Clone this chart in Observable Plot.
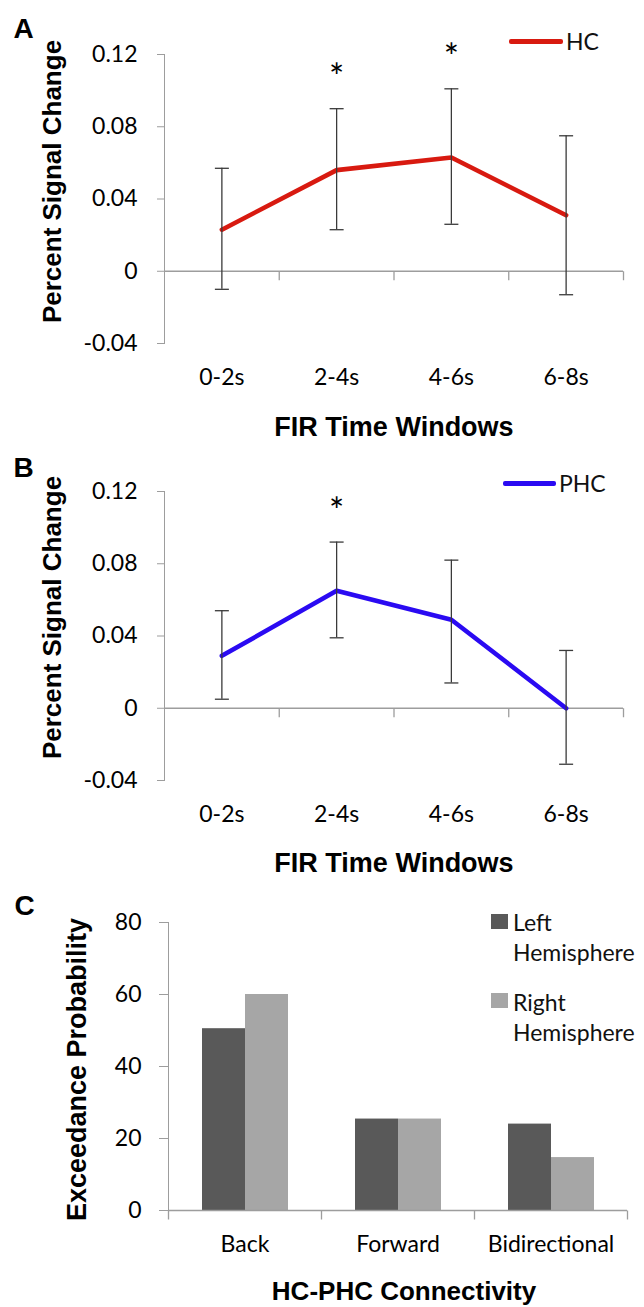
<!DOCTYPE html>
<html>
<head>
<meta charset="utf-8">
<script src="https://cdn.jsdelivr.net/npm/d3@7"></script>
<script src="https://cdn.jsdelivr.net/npm/@observablehq/plot@0.6"></script>
<style>
  html, body { margin: 0; padding: 0; background: #fff; overflow: hidden; }
  #fig { position: relative; width: 644px; overflow: hidden; }
  .panel { position: relative; width: 644px; }
  .panel svg { display: block; }
  .panel svg text { fill: #000 !important; }
  .leg { position: absolute; font-family: Lato, "Open Sans", sans-serif; font-size: 23px; line-height: 30px; color: #111; white-space: nowrap; }
  .legline { position: absolute; height: 5px; border-radius: 2px; }
  .legbox { position: absolute; width: 17px; height: 15px; }
</style>
</head>
<body>
<div id="fig"></div>
<script>
// ---------- data ----------
const windows = ["0-2s", "2-4s", "4-6s", "6-8s"];
const yTicksAB = [-0.04, 0, 0.04, 0.08, 0.12];

const hcMean = [0.023, 0.056, 0.063, 0.031];
const hcLow  = [-0.010, 0.023, 0.026, -0.013];
const hcHigh = [0.057, 0.090, 0.101, 0.075];
const hcSignificant = ["2-4s", "4-6s"];

const phcMean = [0.029, 0.065, 0.049, 0.000];
const phcLow  = [0.005, 0.039, 0.014, -0.031];
const phcHigh = [0.054, 0.092, 0.082, 0.032];
const phcSignificant = ["2-4s"];

const connectivity = ["Back", "Forward", "Bidirectional"];
const hemispheres = ["Left Hemisphere", "Right Hemisphere"];
const leftHemisphere  = [50.5, 25.4, 24.0];
const rightHemisphere = [60.0, 25.4, 14.7];
const yTicksC = [0, 20, 40, 60, 80];

// ---------- styling ----------
const axisGray = "#9d9d9d";
const errColor = "#3a3a3a";
const hcColor = "#d81a10";
const phcColor = "#2a0af2";
const barColors = ["#595959", "#a6a6a6"];
const labelFont = "Liberation Sans, Arial, sans-serif";
const tickFont = "Lato, 'Open Sans', sans-serif";

// custom stroke-only symbols for axis ticks and error-bar caps
const vTick = {draw(ctx) { ctx.moveTo(0, 0); ctx.lineTo(0, 9); }};
const hCap  = {draw(ctx) { ctx.moveTo(-7, 0); ctx.lineTo(7, 0); }};

const fig = document.getElementById("fig");

function linePanel({means, lows, highs, significant, color, letter, legendLabel, mt, mb, letterDy, ylabDy, xlabDy, legend}) {
  const rows = windows.map((w, i) => ({w, mean: means[i], lo: lows[i], hi: highs[i]}));
  const xi = d => windows.indexOf(d.w) + 0.5;
  const stars = rows.filter(d => significant.includes(d.w));
  const bounds = windows.map((w, i) => i + 1);
  const svg = Plot.plot({
    width: 644, height: 436,
    marginLeft: 164, marginRight: 21, marginTop: mt, marginBottom: mb,
    style: {color: axisGray, fontFamily: tickFont, fontSize: "23px", background: "white", overflow: "visible"},
    x: {domain: [0, windows.length], ticks: windows.map((w, i) => i + 0.5),
        tickFormat: d => windows[Math.floor(d)], tickSize: 0, tickPadding: 25, label: null},
    y: {domain: [yTicksAB[0], yTicksAB[yTicksAB.length - 1]], ticks: yTicksAB,
        tickFormat: d => String(d), tickSize: 7, tickPadding: 20, line: true, label: null},
    marks: [
      Plot.ruleY([0], {stroke: axisGray, strokeWidth: 1.3}),
      Plot.dot(bounds, {x: d => d, y: 0, symbol: vTick, stroke: axisGray, fill: "none", strokeWidth: 1.3}),
      Plot.line(rows, {x: xi, y: "mean", stroke: color, strokeWidth: 4.6, strokeLinejoin: "round", strokeLinecap: "round"}),
      Plot.ruleX(rows, {x: xi, y1: "lo", y2: "hi", stroke: errColor, strokeWidth: 1.3}),
      Plot.dot(rows, {x: xi, y: "hi", symbol: hCap, stroke: errColor, fill: "none", strokeWidth: 1.3}),
      Plot.dot(rows, {x: xi, y: "lo", symbol: hCap, stroke: errColor, fill: "none", strokeWidth: 1.3}),
      Plot.text(stars, {x: xi, y: "hi", text: () => "*", dy: -30, fontSize: 36, fontFamily: tickFont, fill: "#000"}),
      Plot.text([letter], {frameAnchor: "top-left", textAnchor: "start", lineAnchor: "middle", dx: -151, dy: letterDy,
        fontSize: 28, fontWeight: "bold", fontFamily: labelFont, fill: "#000"}),
      Plot.text(["Percent Signal Change"], {frameAnchor: "left", textAnchor: "middle", lineAnchor: "middle", rotate: -90, dx: -112, dy: ylabDy,
        fontSize: 26, fontWeight: "bold", fontFamily: labelFont, fill: "#000"}),
      Plot.text(["FIR Time Windows"], {frameAnchor: "bottom", textAnchor: "middle", lineAnchor: "middle", dy: xlabDy,
        fontSize: 27, fontWeight: "bold", fontFamily: labelFont, fill: "#000"})
    ]
  });
  const div = document.createElement("div");
  div.className = "panel";
  div.appendChild(svg);
  const ln = document.createElement("div");
  ln.className = "legline";
  Object.assign(ln.style, {left: legend.lineLeft + "px", top: (legend.y - 2.5) + "px", width: legend.lineW + "px", background: color});
  div.appendChild(ln);
  const tx = document.createElement("div");
  tx.className = "leg";
  Object.assign(tx.style, {left: legend.textLeft + "px", top: (legend.y - 15) + "px"});
  tx.textContent = legendLabel;
  div.appendChild(tx);
  fig.appendChild(div);
}

linePanel({means: hcMean, lows: hcLow, highs: hcHigh, significant: hcSignificant, color: hcColor,
  letter: "A", legendLabel: "HC", mt: 54, mb: 93, letterDy: -25, ylabDy: -17.5, xlabDy: 84,
  legend: {lineLeft: 509, lineW: 54, textLeft: 566, y: 41}});

linePanel({means: phcMean, lows: phcLow, highs: phcHigh, significant: phcSignificant, color: phcColor,
  letter: "B", legendLabel: "PHC", mt: 55, mb: 92, letterDy: -23.5, ylabDy: -18.5, xlabDy: 83,
  legend: {lineLeft: 503, lineW: 53, textLeft: 559, y: 47}});

// ---------- panel C ----------
(function () {
  const rows = [];
  connectivity.forEach((c, i) => {
    rows.push({conn: c, hemi: hemispheres[0], value: leftHemisphere[i]});
    rows.push({conn: c, hemi: hemispheres[1], value: rightHemisphere[i]});
  });
  const last = connectivity[connectivity.length - 1];
  const svg = Plot.plot({
    width: 644, height: 435,
    marginLeft: 167, marginRight: 16, marginTop: 50, marginBottom: 97,
    style: {color: axisGray, fontFamily: tickFont, fontSize: "23px", background: "white", overflow: "visible"},
    fx: {domain: connectivity, padding: 0, label: null, tickSize: 0, tickPadding: 25, axis: "bottom"},
    x: {domain: hemispheres, paddingInner: 0, paddingOuter: 0.767, axis: null},
    y: {domain: [0, 80], ticks: yTicksC, tickSize: 9, tickPadding: 18, line: true, label: null},
    color: {domain: hemispheres, range: barColors},
    marks: [
      Plot.barY(rows, {fx: "conn", x: "hemi", y: "value", fill: "hemi"}),
      Plot.ruleY([0], {stroke: axisGray, strokeWidth: 1.3}),
      Plot.dot([0], {frameAnchor: "bottom-left", symbol: vTick, stroke: axisGray, fill: "none", strokeWidth: 1.3}),
      Plot.dot([last], {fx: d => d, frameAnchor: "bottom-right", symbol: vTick, stroke: axisGray, fill: "none", strokeWidth: 1.3}),
      Plot.text([connectivity[0]], {fx: d => d, text: () => "C", frameAnchor: "top-left", textAnchor: "start", lineAnchor: "middle", dx: -154, dy: -16,
        fontSize: 28, fontWeight: "bold", fontFamily: labelFont, fill: "#000"}),
      Plot.text([connectivity[0]], {fx: d => d, text: () => "Exceedance Probability", frameAnchor: "left", textAnchor: "middle", lineAnchor: "middle", rotate: -90, dx: -91, dy: 3,
        fontSize: 27, fontWeight: "bold", fontFamily: labelFont, fill: "#000"}),
      Plot.text([connectivity[1]], {fx: d => d, text: () => "HC-PHC Connectivity", frameAnchor: "bottom", textAnchor: "middle", lineAnchor: "middle", dx: 6, dy: 81,
        fontSize: 26, fontWeight: "bold", fontFamily: labelFont, fill: "#000"})
    ]
  });
  const div = document.createElement("div");
  div.className = "panel";
  div.appendChild(svg);
  const legendTops = [42, 121];
  const textTops = [35, 115];
  hemispheres.forEach((h, i) => {
    const b = document.createElement("div");
    b.className = "legbox";
    Object.assign(b.style, {left: "491px", top: legendTops[i] + "px", background: barColors[i]});
    div.appendChild(b);
    const t = document.createElement("div");
    t.className = "leg";
    Object.assign(t.style, {left: "513px", top: textTops[i] + "px"});
    t.innerHTML = h.split(" ").join("<br>");
    div.appendChild(t);
  });
  fig.appendChild(div);
})();
</script>
</body>
</html>
